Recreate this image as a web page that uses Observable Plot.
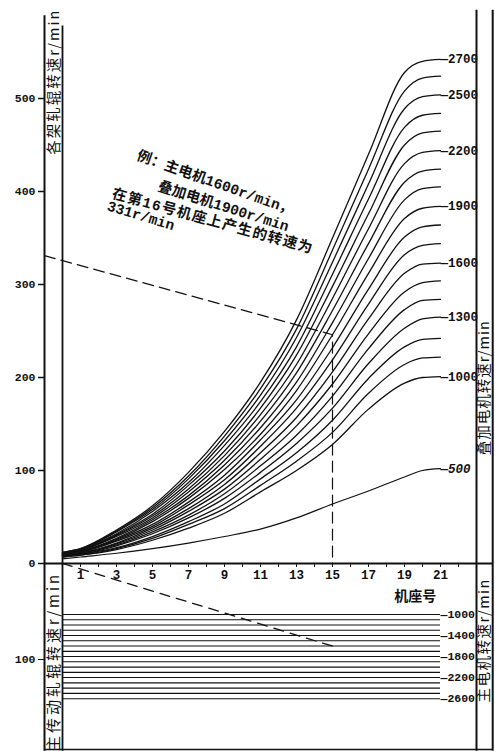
<!DOCTYPE html>
<html><head><meta charset="utf-8">
<script src="https://cdn.jsdelivr.net/npm/d3@7"></script>
<script src="https://cdn.jsdelivr.net/npm/@observablehq/plot@0.6"></script>
<style>
body{margin:0;background:#fff;}
#wrap{position:relative;width:495px;height:751px;overflow:hidden;background:#fff;}
#wrap svg{position:absolute;left:0;top:0;background:transparent;}
</style></head><body><div id="wrap"></div>
<script>
// ---- data ----
const stands = [0, 1, 3, 5, 7, 9, 11, 13, 15, 17, 19, 20, 21];
// roll speed (r/min) of each stand for each superposed-motor speed
const r500  = [5, 7, 11, 16, 22, 29, 37, 49, 64, 78, 93, 100, 102];
const r1000 = [7, 9, 15, 25, 38, 54, 77, 100, 128, 166, 194, 200, 201];
const r1100 = [7, 9, 16, 27, 42, 59, 84, 110, 141, 183, 214, 221, 222];
const r1200 = [8, 10, 17, 29, 45, 64, 91, 119, 154, 199, 233, 241, 242];
const r1300 = [8, 10, 19, 32, 49, 70, 98, 129, 167, 215, 253, 263, 265];
const r1400 = [8, 11, 20, 34, 52, 75, 105, 138, 180, 231, 273, 283, 284];
const r1500 = [9, 11, 21, 36, 56, 80, 112, 148, 193, 247, 292, 302, 304];
const r1600 = [9, 11, 22, 38, 59, 85, 119, 157, 206, 263, 312, 322, 323];
const r1700 = [9, 12, 24, 40, 63, 90, 126, 167, 219, 279, 332, 342, 344];
const r1800 = [9, 12, 25, 42, 66, 95, 133, 176, 232, 295, 351, 362, 364];
const r1900 = [10, 13, 26, 45, 70, 101, 139, 186, 246, 312, 371, 382, 384];
const r2000 = [10, 13, 27, 47, 73, 106, 146, 195, 259, 328, 391, 403, 405];
const r2100 = [10, 14, 29, 49, 77, 111, 153, 205, 272, 344, 410, 422, 424];
const r2200 = [11, 14, 30, 51, 80, 116, 160, 214, 285, 360, 430, 442, 444];
const r2300 = [11, 14, 31, 53, 84, 121, 167, 224, 298, 376, 450, 463, 465];
const r2400 = [11, 15, 32, 56, 87, 127, 174, 233, 311, 392, 469, 482, 484];
const r2500 = [11, 15, 34, 58, 91, 132, 181, 243, 324, 408, 489, 502, 504];
const r2600 = [12, 16, 35, 60, 94, 137, 188, 252, 337, 424, 508, 522, 524];
const r2700 = [12, 16, 36, 62, 98, 142, 195, 262, 350, 440, 528, 540, 542];
const superSpeeds = [500, 1000, 1100, 1200, 1300, 1400, 1500, 1600, 1700, 1800, 1900, 2000, 2100, 2200, 2300, 2400, 2500, 2600, 2700];
const superValues = [r500, r1000, r1100, r1200, r1300, r1400, r1500, r1600, r1700, r1800, r1900, r2000, r2100, r2200, r2300, r2400, r2500, r2600, r2700];
const superLabeled = [2700, 2500, 2200, 1900, 1600, 1300, 1000, 500];

// lower panel: main-motor speed lines and corresponding main roll speed
const mainSpeeds = [1000, 1100, 1200, 1300, 1400, 1500, 1600, 1700, 1800, 1900, 2000, 2100, 2200, 2300, 2400, 2500, 2600];
const mainRollSpeeds = [53.1, 58.6, 64.1, 69.5, 75.0, 80.5, 86.0, 91.5, 96.9, 102.4, 107.9, 113.4, 118.8, 124.3, 129.8, 135.3, 140.8];
const mainLabeled = [1000, 1400, 1800, 2200, 2600];

// axes
const standTicks = [1,2,3,4,5,6,7,8,9,10,11,12,13,14,15,16,17,18,19,20,21,22];
const standLabels = [1,3,5,7,9,11,13,15,17,19,21];
const rollTicks = [0, 100, 200, 300, 400, 500];
const lowerTicks = [100];

// worked example
const exMain = 1600, exSuper = 1900, exStand = 15, exResult = 331;
const noteLines = ["例：主电机1600r/min，", "叠加电机1900r/min", "在第16号机座上产生的转速为", "331r/min"];
const noteX = [4.17, 5.33, 2.78, 2.5];
const noteY = [439, 406, 398, 385];
const noteAngle = [19.5, 17.5, 15.5, 17];

// ---- build ----
const MONO = "'Liberation Mono','DejaVu Sans Mono','Noto Sans CJK SC',monospace";
const CJK = "'Noto Sans CJK SC','Noto Sans',sans-serif";
const INK = "#111";
const W = 495, H = 751;
const xScale = {domain: [-1, 23], axis: null};

const curveRows = superSpeeds.flatMap((n, k) => superValues[k].map((v, i) => ({n, stand: stands[i], v})));
const endOf = n => superValues[superSpeeds.indexOf(n)][stands.length - 1];
const labelRows = superLabeled.map(n => ({n, v: endOf(n)}));
const exCorner = superValues[superSpeeds.indexOf(exSuper)][stands.indexOf(exStand)];
const exPath = [{x: -1, y: exResult}, {x: exStand, y: exCorner}, {x: exStand, y: 0}];
const noteRows = noteLines.map((t, i) => ({t, x: noteX[i], y: noteY[i], a: noteAngle[i]}));

const topPlot = Plot.plot({
  width: W, height: H,
  marginLeft: 44, marginRight: 19, marginTop: 5, marginBottom: 188,
  x: xScale,
  y: {domain: [0, 600], axis: null},
  style: {background: "transparent", color: INK},
  marks: [
    // frame
    Plot.ruleX([-1], {y1: -202, y2: 589, stroke: INK, strokeWidth: 2}),
    Plot.ruleX([0], {y1: -202, y2: 578, stroke: INK, strokeWidth: 1.8}),
    Plot.ruleX([23], {y1: -202, y2: 595, stroke: INK, strokeWidth: 2}),
    Plot.ruleX([23.9], {y1: -202, y2: 595, stroke: INK, strokeWidth: 2}),
    Plot.ruleY([0], {x1: -1, x2: 23.9, stroke: INK, strokeWidth: 1.8}),
    Plot.ruleY([-200], {x1: -1, x2: 23.9, stroke: INK, strokeWidth: 1.6}),
    // curves
    Plot.line(curveRows.filter(d => d.n !== 500), {x: "stand", y: "v", z: "n", curve: "monotone-x", stroke: INK, strokeWidth: 1.3}),
    Plot.line(curveRows.filter(d => d.n === 500), {x: "stand", y: "v", curve: "monotone-x", stroke: INK, strokeWidth: 1.2}),
    Plot.text(labelRows.filter(d => d.n !== 500), {x: 21, y: "v", text: d => "—" + d.n, textAnchor: "start", fontFamily: MONO, fontWeight: "bold", fontSize: 12.5, fill: INK}),
    Plot.text(labelRows.filter(d => d.n === 500), {x: 21, y: "v", text: d => "—" + d.n, textAnchor: "start", fontFamily: MONO, fontWeight: "bold", fontStyle: "italic", fontSize: 12.5, fill: INK}),
    // example
    Plot.line(exPath, {x: "x", y: "y", stroke: INK, strokeWidth: 1.2, strokeDasharray: "11,6"}),
    Plot.text(noteRows, {x: "x", y: "y", text: "t", rotate: "a", textAnchor: "start", fontFamily: MONO, fontWeight: "bold", fontSize: 14.5, fill: INK}),
    // axes
    Plot.axisY({ticks: rollTicks, anchor: "left", tickSize: 6, tickPadding: 3, label: null, fontFamily: MONO, fontWeight: "bold", fontSize: 11.5, strokeWidth: 1.5}),
    Plot.axisX({ticks: standTicks, anchor: "bottom", tickSize: 4, tickPadding: 3, label: null, tickFormat: d => standLabels.includes(d) ? String(d) : "", fontFamily: MONO, fontWeight: "bold", fontSize: 12.5}),
    Plot.text(["机座号"], {x: 19.6, y: -35.5, text: d => d, fontFamily: CJK, fontSize: 14, fontWeight: "bold", fill: INK}),
    Plot.text(["各架轧辊转速r/min"], {x: -0.45, y: 518, text: d => d, rotate: -90, fontFamily: CJK, fontSize: 14.5, fill: INK}),
    Plot.text(["叠加电机转速r/min"], {x: 23.45, y: 189, text: d => d, rotate: -90, fontFamily: CJK, fontSize: 14.5, fill: INK})
  ]
});

const mainRows = mainSpeeds.map((m, i) => ({m, r: mainRollSpeeds[i]}));
const exMainRoll = mainRollSpeeds[mainSpeeds.indexOf(exMain)];
const bottomPlot = Plot.plot({
  width: W, height: H,
  marginLeft: 44, marginRight: 19, marginTop: 563, marginBottom: 0,
  x: xScale,
  y: {domain: [0, 195.8], reverse: true, axis: null},
  style: {background: "transparent", color: INK},
  marks: [
    Plot.ruleY(mainRows, {y: "r", x1: 0, x2: 21, stroke: INK, strokeWidth: 1.1}),
    Plot.text(mainRows.filter(d => mainLabeled.includes(d.m)), {x: 21, y: "r", text: d => "—" + d.m, textAnchor: "start", fontFamily: MONO, fontWeight: "bold", fontSize: 11.5, fill: INK}),
    Plot.line([{x: 0, y: 0}, {x: exStand, y: exMainRoll}], {x: "x", y: "y", stroke: INK, strokeWidth: 1.3, strokeDasharray: "10,7"}),
    Plot.axisY({ticks: lowerTicks, anchor: "left", tickSize: 6, tickPadding: 3, label: null, fontFamily: MONO, fontWeight: "bold", fontSize: 11.5}),
    Plot.text(["主传动轧辊转速r/min"], {x: -0.45, y: 102, text: d => d, rotate: -90, fontFamily: CJK, fontSize: 15, fill: INK}),
    Plot.text(["主电机转速r/min"], {x: 23.45, y: 80, text: d => d, rotate: -90, fontFamily: CJK, fontSize: 14.5, fill: INK})
  ]
});

const wrap = document.getElementById("wrap");
wrap.appendChild(topPlot);
wrap.appendChild(bottomPlot);
// spread the vertical titles to the length of the originals
const spacing = {"各架轧辊转速r/min": 2, "叠加电机转速r/min": 1, "主传动轧辊转速r/min": 3, "主电机转速r/min": 1.5, "在第16号机座上产生的转速为": 1.2};
d3.selectAll("#wrap text").each(function() {
  const s = spacing[this.textContent];
  if (s) this.setAttribute("letter-spacing", s + "px");
});
</script></body></html>
